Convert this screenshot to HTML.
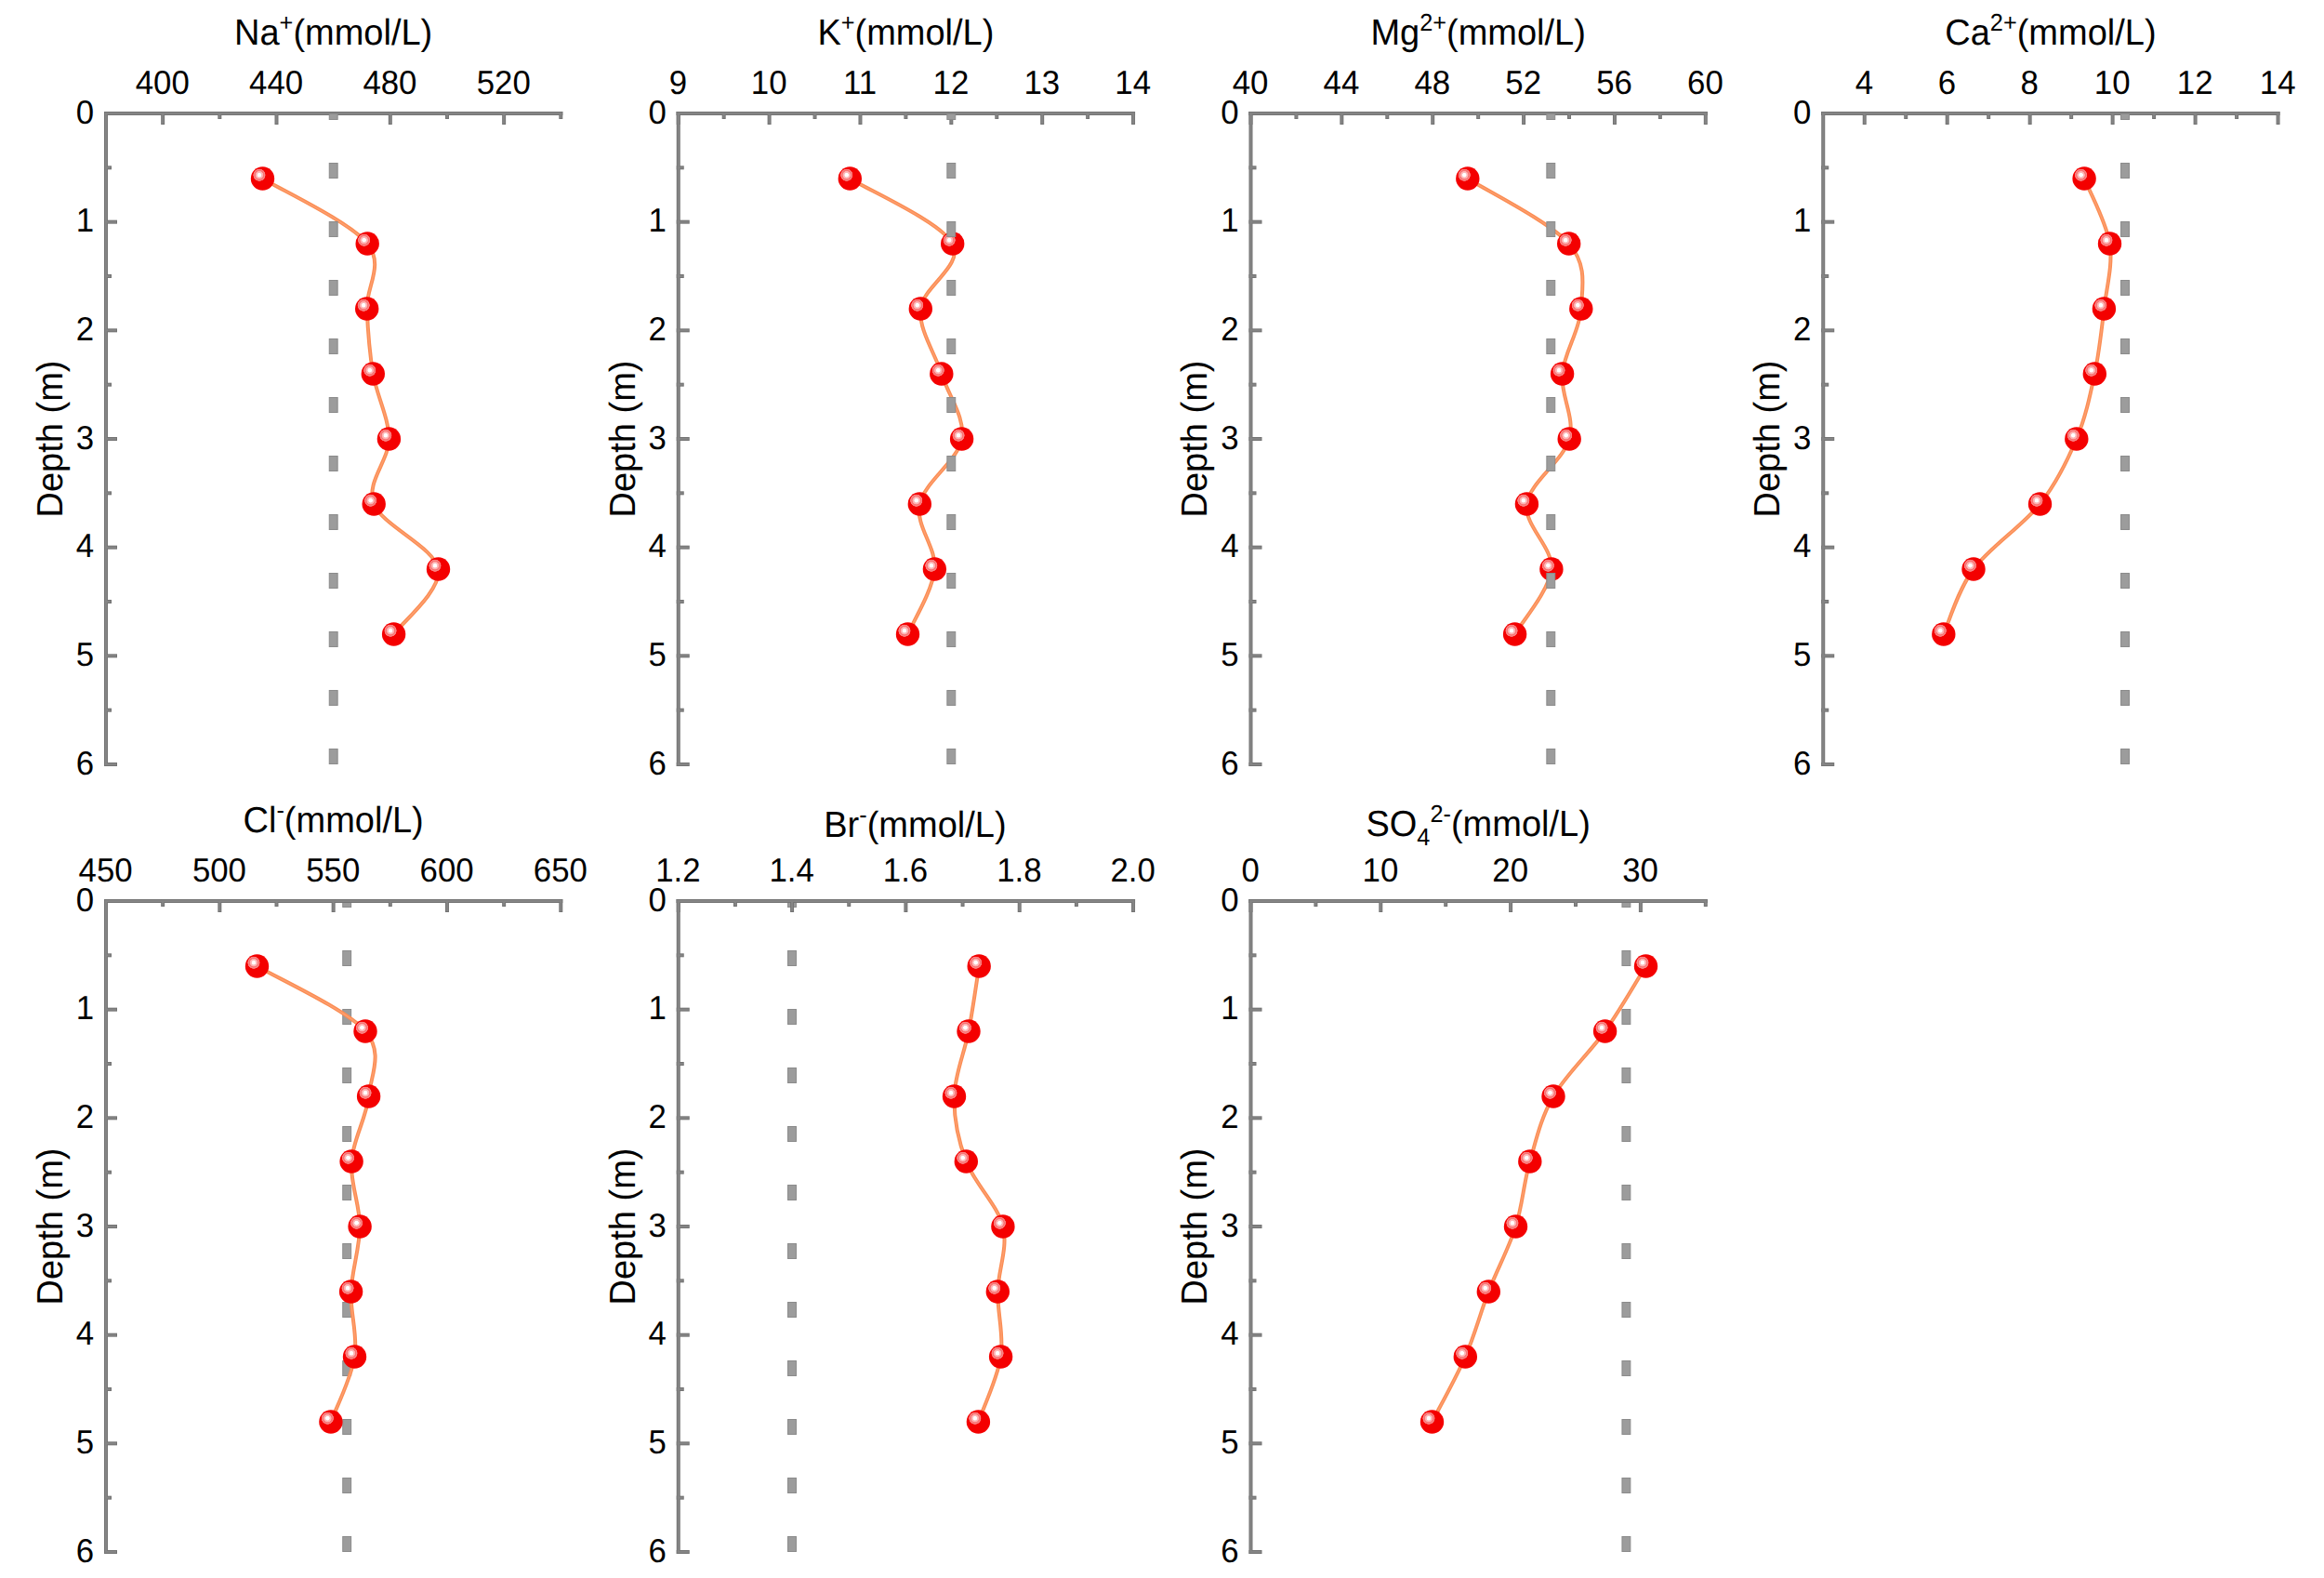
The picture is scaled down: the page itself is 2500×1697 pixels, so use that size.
<!DOCTYPE html>
<html lang="en"><head><meta charset="utf-8"><title>Pore-water ion depth profiles</title>
<style>html,body{margin:0;padding:0;background:#fff;overflow:hidden}svg{display:block}text{font-family:"Liberation Sans", sans-serif;fill:#000;text-rendering:geometricPrecision}</style></head><body>
<svg width="2500" height="1697" viewBox="0 0 2500 1697">
<defs>
<radialGradient id="hl" cx="0.5" cy="0.5" r="0.5"><stop offset="0" stop-color="#fff"/><stop offset="0.29" stop-color="#fff"/><stop offset="0.37" stop-color="#fdbcbc"/><stop offset="0.58" stop-color="#fcb0b0"/><stop offset="0.65" stop-color="#f97474"/><stop offset="0.76" stop-color="#f97070"/><stop offset="0.81" stop-color="#fa8888"/><stop offset="0.94" stop-color="#f97c7c"/><stop offset="1" stop-color="#f40000"/></radialGradient>
</defs>
<rect width="2500" height="1697" fill="#fff"/>
<g id="panel1">
<path d="M282.5 192.0 C301.3 203.7 376.5 238.7 395.2 262.0 C413.9 285.3 393.7 308.7 394.7 332.0 C395.7 355.3 397.4 378.7 401.3 402.0 C405.2 425.3 418.2 448.7 418.4 472.0 C418.5 495.3 393.3 518.7 402.2 542.0 C411.1 565.3 467.9 588.7 471.5 612.0 C475.1 635.3 431.6 670.3 423.6 682.0" fill="none" stroke="#fb8d53" stroke-width="4" stroke-linejoin="round"/><path d="M282.5 192.0 C301.3 203.7 376.5 238.7 395.2 262.0 C413.9 285.3 393.7 308.7 394.7 332.0 C395.7 355.3 397.4 378.7 401.3 402.0 C405.2 425.3 418.2 448.7 418.4 472.0 C418.5 495.3 393.3 518.7 402.2 542.0 C411.1 565.3 467.9 588.7 471.5 612.0 C475.1 635.3 431.6 670.3 423.6 682.0" fill="none" stroke="#fd9f70" stroke-width="1.4" stroke-linejoin="round"/>
<circle cx="282.5" cy="192" r="12.7" fill="#f40000"/><circle cx="278.95" cy="188.2" r="6.8" fill="url(#hl)"/><circle cx="395.2" cy="262" r="12.7" fill="#f40000"/><circle cx="391.65" cy="258.2" r="6.8" fill="url(#hl)"/><circle cx="394.7" cy="332" r="12.7" fill="#f40000"/><circle cx="391.15" cy="328.2" r="6.8" fill="url(#hl)"/><circle cx="401.3" cy="402" r="12.7" fill="#f40000"/><circle cx="397.75" cy="398.2" r="6.8" fill="url(#hl)"/><circle cx="418.4" cy="472" r="12.7" fill="#f40000"/><circle cx="414.85" cy="468.2" r="6.8" fill="url(#hl)"/><circle cx="402.2" cy="542" r="12.7" fill="#f40000"/><circle cx="398.65" cy="538.2" r="6.8" fill="url(#hl)"/><circle cx="471.5" cy="612" r="12.7" fill="#f40000"/><circle cx="467.95" cy="608.2" r="6.8" fill="url(#hl)"/><circle cx="423.6" cy="682" r="12.7" fill="#f40000"/><circle cx="420.05" cy="678.2" r="6.8" fill="url(#hl)"/>
<g fill="#747474"><rect x="112" y="120" width="493.3" height="4"/><rect x="112" y="120" width="4" height="704"/><rect x="173.16" y="120" width="4" height="14"/><rect x="295.49" y="120" width="4" height="14"/><rect x="417.81" y="120" width="4" height="14"/><rect x="540.14" y="120" width="4" height="14"/><rect x="234.32" y="120" width="4" height="8"/><rect x="356.65" y="120" width="4" height="8"/><rect x="478.98" y="120" width="4" height="8"/><rect x="601.3" y="120" width="4" height="8"/><rect x="112" y="120" width="14" height="4"/><rect x="112" y="236.67" width="14" height="4"/><rect x="112" y="353.33" width="14" height="4"/><rect x="112" y="470" width="14" height="4"/><rect x="112" y="586.67" width="14" height="4"/><rect x="112" y="703.33" width="14" height="4"/><rect x="112" y="820" width="14" height="4"/><rect x="112" y="178.33" width="8" height="4"/><rect x="112" y="295" width="8" height="4"/><rect x="112" y="411.67" width="8" height="4"/><rect x="112" y="528.33" width="8" height="4"/><rect x="112" y="645" width="8" height="4"/><rect x="112" y="761.67" width="8" height="4"/></g><g fill="#858585"><rect x="113" y="121" width="491.3" height="2"/><rect x="113" y="121" width="2" height="702"/><rect x="174.16" y="121" width="2" height="12"/><rect x="296.49" y="121" width="2" height="12"/><rect x="418.81" y="121" width="2" height="12"/><rect x="541.14" y="121" width="2" height="12"/><rect x="235.32" y="121" width="2" height="6"/><rect x="357.65" y="121" width="2" height="6"/><rect x="479.98" y="121" width="2" height="6"/><rect x="602.3" y="121" width="2" height="6"/><rect x="113" y="121" width="12" height="2"/><rect x="113" y="237.67" width="12" height="2"/><rect x="113" y="354.33" width="12" height="2"/><rect x="113" y="471" width="12" height="2"/><rect x="113" y="587.67" width="12" height="2"/><rect x="113" y="704.33" width="12" height="2"/><rect x="113" y="821" width="12" height="2"/><rect x="113" y="179.33" width="6" height="2"/><rect x="113" y="296" width="6" height="2"/><rect x="113" y="412.67" width="6" height="2"/><rect x="113" y="529.33" width="6" height="2"/><rect x="113" y="646" width="6" height="2"/><rect x="113" y="762.67" width="6" height="2"/></g>
<g fill="#9c9c9c" stroke="#8b8b8b" stroke-width="1"><rect x="354.25" y="122.5" width="8.9" height="6"/><rect x="354.25" y="175.5" width="8.9" height="16"/><rect x="354.25" y="238.5" width="8.9" height="16"/><rect x="354.25" y="301.5" width="8.9" height="16"/><rect x="354.25" y="364.5" width="8.9" height="16"/><rect x="354.25" y="427.5" width="8.9" height="16"/><rect x="354.25" y="490.5" width="8.9" height="16"/><rect x="354.25" y="553.5" width="8.9" height="16"/><rect x="354.25" y="616.5" width="8.9" height="16"/><rect x="354.25" y="679.5" width="8.9" height="16"/><rect x="354.25" y="742.5" width="8.9" height="16"/><rect x="354.25" y="805.5" width="8.9" height="16"/></g>
<g font-size="34.8">
<g text-anchor="middle">
<text transform="matrix(1 0 0 1.03 174.76 100.5)">400</text>
<text transform="matrix(1 0 0 1.03 297.09 100.5)">440</text>
<text transform="matrix(1 0 0 1.03 419.41 100.5)">480</text>
<text transform="matrix(1 0 0 1.03 541.74 100.5)">520</text>
</g><g text-anchor="end">
<text transform="matrix(1 0 0 1.03 101 132.7)">0</text>
<text transform="matrix(1 0 0 1.03 101 249.37)">1</text>
<text transform="matrix(1 0 0 1.03 101 366.03)">2</text>
<text transform="matrix(1 0 0 1.03 101 482.7)">3</text>
<text transform="matrix(1 0 0 1.03 101 599.37)">4</text>
<text transform="matrix(1 0 0 1.03 101 716.03)">5</text>
<text transform="matrix(1 0 0 1.03 101 832.7)">6</text>
</g></g>
<text transform="matrix(1 0 0 1.03 358.65 48.3)" text-anchor="middle" font-size="38"><tspan dy="0" font-size="38">Na</tspan><tspan dy="-14.5" font-size="25.3">+</tspan><tspan dy="14.5" font-size="38">(mmol/L)</tspan></text>
<text transform="translate(66.9 472) rotate(-90) scale(1 1.03)" text-anchor="middle" font-size="38">Depth (m)</text>
</g>
<g id="panel2">
<path d="M914.3 192.0 C932.7 203.7 1012.0 238.7 1024.7 262.0 C1037.4 285.3 992.3 308.7 990.3 332.0 C988.3 355.3 1005.4 378.7 1012.8 402.0 C1020.2 425.3 1038.5 448.7 1034.6 472.0 C1030.7 495.3 994.2 518.7 989.3 542.0 C984.4 565.3 1007.5 588.7 1005.4 612.0 C1003.3 635.3 981.3 670.3 976.5 682.0" fill="none" stroke="#fb8d53" stroke-width="4" stroke-linejoin="round"/><path d="M914.3 192.0 C932.7 203.7 1012.0 238.7 1024.7 262.0 C1037.4 285.3 992.3 308.7 990.3 332.0 C988.3 355.3 1005.4 378.7 1012.8 402.0 C1020.2 425.3 1038.5 448.7 1034.6 472.0 C1030.7 495.3 994.2 518.7 989.3 542.0 C984.4 565.3 1007.5 588.7 1005.4 612.0 C1003.3 635.3 981.3 670.3 976.5 682.0" fill="none" stroke="#fd9f70" stroke-width="1.4" stroke-linejoin="round"/>
<circle cx="914.3" cy="192" r="12.7" fill="#f40000"/><circle cx="910.75" cy="188.2" r="6.8" fill="url(#hl)"/><circle cx="1024.7" cy="262" r="12.7" fill="#f40000"/><circle cx="1021.15" cy="258.2" r="6.8" fill="url(#hl)"/><circle cx="990.3" cy="332" r="12.7" fill="#f40000"/><circle cx="986.75" cy="328.2" r="6.8" fill="url(#hl)"/><circle cx="1012.8" cy="402" r="12.7" fill="#f40000"/><circle cx="1009.25" cy="398.2" r="6.8" fill="url(#hl)"/><circle cx="1034.6" cy="472" r="12.7" fill="#f40000"/><circle cx="1031.05" cy="468.2" r="6.8" fill="url(#hl)"/><circle cx="989.3" cy="542" r="12.7" fill="#f40000"/><circle cx="985.75" cy="538.2" r="6.8" fill="url(#hl)"/><circle cx="1005.4" cy="612" r="12.7" fill="#f40000"/><circle cx="1001.85" cy="608.2" r="6.8" fill="url(#hl)"/><circle cx="976.5" cy="682" r="12.7" fill="#f40000"/><circle cx="972.95" cy="678.2" r="6.8" fill="url(#hl)"/>
<g fill="#747474"><rect x="727.75" y="120" width="493.3" height="4"/><rect x="727.75" y="120" width="4" height="704"/><rect x="727.75" y="120" width="4" height="14"/><rect x="825.61" y="120" width="4" height="14"/><rect x="923.47" y="120" width="4" height="14"/><rect x="1021.33" y="120" width="4" height="14"/><rect x="1119.19" y="120" width="4" height="14"/><rect x="1217.05" y="120" width="4" height="14"/><rect x="776.68" y="120" width="4" height="8"/><rect x="874.54" y="120" width="4" height="8"/><rect x="972.4" y="120" width="4" height="8"/><rect x="1070.26" y="120" width="4" height="8"/><rect x="1168.12" y="120" width="4" height="8"/><rect x="727.75" y="120" width="14" height="4"/><rect x="727.75" y="236.67" width="14" height="4"/><rect x="727.75" y="353.33" width="14" height="4"/><rect x="727.75" y="470" width="14" height="4"/><rect x="727.75" y="586.67" width="14" height="4"/><rect x="727.75" y="703.33" width="14" height="4"/><rect x="727.75" y="820" width="14" height="4"/><rect x="727.75" y="178.33" width="8" height="4"/><rect x="727.75" y="295" width="8" height="4"/><rect x="727.75" y="411.67" width="8" height="4"/><rect x="727.75" y="528.33" width="8" height="4"/><rect x="727.75" y="645" width="8" height="4"/><rect x="727.75" y="761.67" width="8" height="4"/></g><g fill="#858585"><rect x="728.75" y="121" width="491.3" height="2"/><rect x="728.75" y="121" width="2" height="702"/><rect x="728.75" y="121" width="2" height="12"/><rect x="826.61" y="121" width="2" height="12"/><rect x="924.47" y="121" width="2" height="12"/><rect x="1022.33" y="121" width="2" height="12"/><rect x="1120.19" y="121" width="2" height="12"/><rect x="1218.05" y="121" width="2" height="12"/><rect x="777.68" y="121" width="2" height="6"/><rect x="875.54" y="121" width="2" height="6"/><rect x="973.4" y="121" width="2" height="6"/><rect x="1071.26" y="121" width="2" height="6"/><rect x="1169.12" y="121" width="2" height="6"/><rect x="728.75" y="121" width="12" height="2"/><rect x="728.75" y="237.67" width="12" height="2"/><rect x="728.75" y="354.33" width="12" height="2"/><rect x="728.75" y="471" width="12" height="2"/><rect x="728.75" y="587.67" width="12" height="2"/><rect x="728.75" y="704.33" width="12" height="2"/><rect x="728.75" y="821" width="12" height="2"/><rect x="728.75" y="179.33" width="6" height="2"/><rect x="728.75" y="296" width="6" height="2"/><rect x="728.75" y="412.67" width="6" height="2"/><rect x="728.75" y="529.33" width="6" height="2"/><rect x="728.75" y="646" width="6" height="2"/><rect x="728.75" y="762.67" width="6" height="2"/></g>
<g fill="#9c9c9c" stroke="#8b8b8b" stroke-width="1"><rect x="1018.85" y="122.5" width="8.9" height="6"/><rect x="1018.85" y="175.5" width="8.9" height="16"/><rect x="1018.85" y="238.5" width="8.9" height="16"/><rect x="1018.85" y="301.5" width="8.9" height="16"/><rect x="1018.85" y="364.5" width="8.9" height="16"/><rect x="1018.85" y="427.5" width="8.9" height="16"/><rect x="1018.85" y="490.5" width="8.9" height="16"/><rect x="1018.85" y="553.5" width="8.9" height="16"/><rect x="1018.85" y="616.5" width="8.9" height="16"/><rect x="1018.85" y="679.5" width="8.9" height="16"/><rect x="1018.85" y="742.5" width="8.9" height="16"/><rect x="1018.85" y="805.5" width="8.9" height="16"/></g>
<g font-size="34.8">
<g text-anchor="middle">
<text transform="matrix(1 0 0 1.03 729.35 100.5)">9</text>
<text transform="matrix(1 0 0 1.03 827.21 100.5)">10</text>
<text transform="matrix(1 0 0 1.03 925.07 100.5)">11</text>
<text transform="matrix(1 0 0 1.03 1022.93 100.5)">12</text>
<text transform="matrix(1 0 0 1.03 1120.79 100.5)">13</text>
<text transform="matrix(1 0 0 1.03 1218.65 100.5)">14</text>
</g><g text-anchor="end">
<text transform="matrix(1 0 0 1.03 716.75 132.7)">0</text>
<text transform="matrix(1 0 0 1.03 716.75 249.37)">1</text>
<text transform="matrix(1 0 0 1.03 716.75 366.03)">2</text>
<text transform="matrix(1 0 0 1.03 716.75 482.7)">3</text>
<text transform="matrix(1 0 0 1.03 716.75 599.37)">4</text>
<text transform="matrix(1 0 0 1.03 716.75 716.03)">5</text>
<text transform="matrix(1 0 0 1.03 716.75 832.7)">6</text>
</g></g>
<text transform="matrix(1 0 0 1.03 974.4 48.3)" text-anchor="middle" font-size="38"><tspan dy="0" font-size="38">K</tspan><tspan dy="-14.5" font-size="25.3">+</tspan><tspan dy="14.5" font-size="38">(mmol/L)</tspan></text>
<text transform="translate(682.65 472) rotate(-90) scale(1 1.03)" text-anchor="middle" font-size="38">Depth (m)</text>
</g>
<g id="panel3">
<path d="M1578.8 192.0 C1597.0 203.7 1667.4 238.7 1687.7 262.0 C1708.0 285.3 1702.0 308.7 1700.8 332.0 C1699.6 355.3 1682.7 378.7 1680.6 402.0 C1678.5 425.3 1694.6 448.7 1688.2 472.0 C1681.8 495.3 1645.6 518.7 1642.4 542.0 C1639.2 565.3 1671.0 588.7 1668.9 612.0 C1666.8 635.3 1636.1 670.3 1629.6 682.0" fill="none" stroke="#fb8d53" stroke-width="4" stroke-linejoin="round"/><path d="M1578.8 192.0 C1597.0 203.7 1667.4 238.7 1687.7 262.0 C1708.0 285.3 1702.0 308.7 1700.8 332.0 C1699.6 355.3 1682.7 378.7 1680.6 402.0 C1678.5 425.3 1694.6 448.7 1688.2 472.0 C1681.8 495.3 1645.6 518.7 1642.4 542.0 C1639.2 565.3 1671.0 588.7 1668.9 612.0 C1666.8 635.3 1636.1 670.3 1629.6 682.0" fill="none" stroke="#fd9f70" stroke-width="1.4" stroke-linejoin="round"/>
<circle cx="1578.8" cy="192" r="12.7" fill="#f40000"/><circle cx="1575.25" cy="188.2" r="6.8" fill="url(#hl)"/><circle cx="1687.7" cy="262" r="12.7" fill="#f40000"/><circle cx="1684.15" cy="258.2" r="6.8" fill="url(#hl)"/><circle cx="1700.8" cy="332" r="12.7" fill="#f40000"/><circle cx="1697.25" cy="328.2" r="6.8" fill="url(#hl)"/><circle cx="1680.6" cy="402" r="12.7" fill="#f40000"/><circle cx="1677.05" cy="398.2" r="6.8" fill="url(#hl)"/><circle cx="1688.2" cy="472" r="12.7" fill="#f40000"/><circle cx="1684.65" cy="468.2" r="6.8" fill="url(#hl)"/><circle cx="1642.4" cy="542" r="12.7" fill="#f40000"/><circle cx="1638.85" cy="538.2" r="6.8" fill="url(#hl)"/><circle cx="1668.9" cy="612" r="12.7" fill="#f40000"/><circle cx="1665.35" cy="608.2" r="6.8" fill="url(#hl)"/><circle cx="1629.6" cy="682" r="12.7" fill="#f40000"/><circle cx="1626.05" cy="678.2" r="6.8" fill="url(#hl)"/>
<g fill="#747474"><rect x="1343.5" y="120" width="493.3" height="4"/><rect x="1343.5" y="120" width="4" height="704"/><rect x="1343.5" y="120" width="4" height="14"/><rect x="1441.36" y="120" width="4" height="14"/><rect x="1539.22" y="120" width="4" height="14"/><rect x="1637.08" y="120" width="4" height="14"/><rect x="1734.94" y="120" width="4" height="14"/><rect x="1832.8" y="120" width="4" height="14"/><rect x="1392.43" y="120" width="4" height="8"/><rect x="1490.29" y="120" width="4" height="8"/><rect x="1588.15" y="120" width="4" height="8"/><rect x="1686.01" y="120" width="4" height="8"/><rect x="1783.87" y="120" width="4" height="8"/><rect x="1343.5" y="120" width="14" height="4"/><rect x="1343.5" y="236.67" width="14" height="4"/><rect x="1343.5" y="353.33" width="14" height="4"/><rect x="1343.5" y="470" width="14" height="4"/><rect x="1343.5" y="586.67" width="14" height="4"/><rect x="1343.5" y="703.33" width="14" height="4"/><rect x="1343.5" y="820" width="14" height="4"/><rect x="1343.5" y="178.33" width="8" height="4"/><rect x="1343.5" y="295" width="8" height="4"/><rect x="1343.5" y="411.67" width="8" height="4"/><rect x="1343.5" y="528.33" width="8" height="4"/><rect x="1343.5" y="645" width="8" height="4"/><rect x="1343.5" y="761.67" width="8" height="4"/></g><g fill="#858585"><rect x="1344.5" y="121" width="491.3" height="2"/><rect x="1344.5" y="121" width="2" height="702"/><rect x="1344.5" y="121" width="2" height="12"/><rect x="1442.36" y="121" width="2" height="12"/><rect x="1540.22" y="121" width="2" height="12"/><rect x="1638.08" y="121" width="2" height="12"/><rect x="1735.94" y="121" width="2" height="12"/><rect x="1833.8" y="121" width="2" height="12"/><rect x="1393.43" y="121" width="2" height="6"/><rect x="1491.29" y="121" width="2" height="6"/><rect x="1589.15" y="121" width="2" height="6"/><rect x="1687.01" y="121" width="2" height="6"/><rect x="1784.87" y="121" width="2" height="6"/><rect x="1344.5" y="121" width="12" height="2"/><rect x="1344.5" y="237.67" width="12" height="2"/><rect x="1344.5" y="354.33" width="12" height="2"/><rect x="1344.5" y="471" width="12" height="2"/><rect x="1344.5" y="587.67" width="12" height="2"/><rect x="1344.5" y="704.33" width="12" height="2"/><rect x="1344.5" y="821" width="12" height="2"/><rect x="1344.5" y="179.33" width="6" height="2"/><rect x="1344.5" y="296" width="6" height="2"/><rect x="1344.5" y="412.67" width="6" height="2"/><rect x="1344.5" y="529.33" width="6" height="2"/><rect x="1344.5" y="646" width="6" height="2"/><rect x="1344.5" y="762.67" width="6" height="2"/></g>
<g fill="#9c9c9c" stroke="#8b8b8b" stroke-width="1"><rect x="1663.85" y="122.5" width="8.9" height="6"/><rect x="1663.85" y="175.5" width="8.9" height="16"/><rect x="1663.85" y="238.5" width="8.9" height="16"/><rect x="1663.85" y="301.5" width="8.9" height="16"/><rect x="1663.85" y="364.5" width="8.9" height="16"/><rect x="1663.85" y="427.5" width="8.9" height="16"/><rect x="1663.85" y="490.5" width="8.9" height="16"/><rect x="1663.85" y="553.5" width="8.9" height="16"/><rect x="1663.85" y="616.5" width="8.9" height="16"/><rect x="1663.85" y="679.5" width="8.9" height="16"/><rect x="1663.85" y="742.5" width="8.9" height="16"/><rect x="1663.85" y="805.5" width="8.9" height="16"/></g>
<g font-size="34.8">
<g text-anchor="middle">
<text transform="matrix(1 0 0 1.03 1345.1 100.5)">40</text>
<text transform="matrix(1 0 0 1.03 1442.96 100.5)">44</text>
<text transform="matrix(1 0 0 1.03 1540.82 100.5)">48</text>
<text transform="matrix(1 0 0 1.03 1638.68 100.5)">52</text>
<text transform="matrix(1 0 0 1.03 1736.54 100.5)">56</text>
<text transform="matrix(1 0 0 1.03 1834.4 100.5)">60</text>
</g><g text-anchor="end">
<text transform="matrix(1 0 0 1.03 1332.5 132.7)">0</text>
<text transform="matrix(1 0 0 1.03 1332.5 249.37)">1</text>
<text transform="matrix(1 0 0 1.03 1332.5 366.03)">2</text>
<text transform="matrix(1 0 0 1.03 1332.5 482.7)">3</text>
<text transform="matrix(1 0 0 1.03 1332.5 599.37)">4</text>
<text transform="matrix(1 0 0 1.03 1332.5 716.03)">5</text>
<text transform="matrix(1 0 0 1.03 1332.5 832.7)">6</text>
</g></g>
<text transform="matrix(1 0 0 1.03 1590.15 48.3)" text-anchor="middle" font-size="38"><tspan dy="0" font-size="38">Mg</tspan><tspan dy="-14.5" font-size="25.3">2+</tspan><tspan dy="14.5" font-size="38">(mmol/L)</tspan></text>
<text transform="translate(1298.4 472) rotate(-90) scale(1 1.03)" text-anchor="middle" font-size="38">Depth (m)</text>
</g>
<g id="panel4">
<path d="M2242.1 192.0 C2246.7 203.7 2265.9 238.7 2269.5 262.0 C2273.1 285.3 2266.1 308.7 2263.4 332.0 C2260.7 355.3 2258.2 378.7 2253.3 402.0 C2248.4 425.3 2243.6 448.7 2233.8 472.0 C2224.0 495.3 2213.0 518.7 2194.5 542.0 C2176.0 565.3 2140.3 588.7 2123.0 612.0 C2105.7 635.3 2096.2 670.3 2090.8 682.0" fill="none" stroke="#fb8d53" stroke-width="4" stroke-linejoin="round"/><path d="M2242.1 192.0 C2246.7 203.7 2265.9 238.7 2269.5 262.0 C2273.1 285.3 2266.1 308.7 2263.4 332.0 C2260.7 355.3 2258.2 378.7 2253.3 402.0 C2248.4 425.3 2243.6 448.7 2233.8 472.0 C2224.0 495.3 2213.0 518.7 2194.5 542.0 C2176.0 565.3 2140.3 588.7 2123.0 612.0 C2105.7 635.3 2096.2 670.3 2090.8 682.0" fill="none" stroke="#fd9f70" stroke-width="1.4" stroke-linejoin="round"/>
<circle cx="2242.1" cy="192" r="12.7" fill="#f40000"/><circle cx="2238.55" cy="188.2" r="6.8" fill="url(#hl)"/><circle cx="2269.5" cy="262" r="12.7" fill="#f40000"/><circle cx="2265.95" cy="258.2" r="6.8" fill="url(#hl)"/><circle cx="2263.4" cy="332" r="12.7" fill="#f40000"/><circle cx="2259.85" cy="328.2" r="6.8" fill="url(#hl)"/><circle cx="2253.3" cy="402" r="12.7" fill="#f40000"/><circle cx="2249.75" cy="398.2" r="6.8" fill="url(#hl)"/><circle cx="2233.8" cy="472" r="12.7" fill="#f40000"/><circle cx="2230.25" cy="468.2" r="6.8" fill="url(#hl)"/><circle cx="2194.5" cy="542" r="12.7" fill="#f40000"/><circle cx="2190.95" cy="538.2" r="6.8" fill="url(#hl)"/><circle cx="2123" cy="612" r="12.7" fill="#f40000"/><circle cx="2119.45" cy="608.2" r="6.8" fill="url(#hl)"/><circle cx="2090.8" cy="682" r="12.7" fill="#f40000"/><circle cx="2087.25" cy="678.2" r="6.8" fill="url(#hl)"/>
<g fill="#747474"><rect x="1959.25" y="120" width="493.3" height="4"/><rect x="1959.25" y="120" width="4" height="704"/><rect x="2003.73" y="120" width="4" height="14"/><rect x="2092.7" y="120" width="4" height="14"/><rect x="2181.66" y="120" width="4" height="14"/><rect x="2270.62" y="120" width="4" height="14"/><rect x="2359.59" y="120" width="4" height="14"/><rect x="2448.55" y="120" width="4" height="14"/><rect x="2048.21" y="120" width="4" height="8"/><rect x="2137.18" y="120" width="4" height="8"/><rect x="2226.14" y="120" width="4" height="8"/><rect x="2315.1" y="120" width="4" height="8"/><rect x="2404.07" y="120" width="4" height="8"/><rect x="1959.25" y="120" width="14" height="4"/><rect x="1959.25" y="236.67" width="14" height="4"/><rect x="1959.25" y="353.33" width="14" height="4"/><rect x="1959.25" y="470" width="14" height="4"/><rect x="1959.25" y="586.67" width="14" height="4"/><rect x="1959.25" y="703.33" width="14" height="4"/><rect x="1959.25" y="820" width="14" height="4"/><rect x="1959.25" y="178.33" width="8" height="4"/><rect x="1959.25" y="295" width="8" height="4"/><rect x="1959.25" y="411.67" width="8" height="4"/><rect x="1959.25" y="528.33" width="8" height="4"/><rect x="1959.25" y="645" width="8" height="4"/><rect x="1959.25" y="761.67" width="8" height="4"/></g><g fill="#858585"><rect x="1960.25" y="121" width="491.3" height="2"/><rect x="1960.25" y="121" width="2" height="702"/><rect x="2004.73" y="121" width="2" height="12"/><rect x="2093.7" y="121" width="2" height="12"/><rect x="2182.66" y="121" width="2" height="12"/><rect x="2271.62" y="121" width="2" height="12"/><rect x="2360.59" y="121" width="2" height="12"/><rect x="2449.55" y="121" width="2" height="12"/><rect x="2049.21" y="121" width="2" height="6"/><rect x="2138.18" y="121" width="2" height="6"/><rect x="2227.14" y="121" width="2" height="6"/><rect x="2316.1" y="121" width="2" height="6"/><rect x="2405.07" y="121" width="2" height="6"/><rect x="1960.25" y="121" width="12" height="2"/><rect x="1960.25" y="237.67" width="12" height="2"/><rect x="1960.25" y="354.33" width="12" height="2"/><rect x="1960.25" y="471" width="12" height="2"/><rect x="1960.25" y="587.67" width="12" height="2"/><rect x="1960.25" y="704.33" width="12" height="2"/><rect x="1960.25" y="821" width="12" height="2"/><rect x="1960.25" y="179.33" width="6" height="2"/><rect x="1960.25" y="296" width="6" height="2"/><rect x="1960.25" y="412.67" width="6" height="2"/><rect x="1960.25" y="529.33" width="6" height="2"/><rect x="1960.25" y="646" width="6" height="2"/><rect x="1960.25" y="762.67" width="6" height="2"/></g>
<g fill="#9c9c9c" stroke="#8b8b8b" stroke-width="1"><rect x="2281.55" y="122.5" width="8.9" height="6"/><rect x="2281.55" y="175.5" width="8.9" height="16"/><rect x="2281.55" y="238.5" width="8.9" height="16"/><rect x="2281.55" y="301.5" width="8.9" height="16"/><rect x="2281.55" y="364.5" width="8.9" height="16"/><rect x="2281.55" y="427.5" width="8.9" height="16"/><rect x="2281.55" y="490.5" width="8.9" height="16"/><rect x="2281.55" y="553.5" width="8.9" height="16"/><rect x="2281.55" y="616.5" width="8.9" height="16"/><rect x="2281.55" y="679.5" width="8.9" height="16"/><rect x="2281.55" y="742.5" width="8.9" height="16"/><rect x="2281.55" y="805.5" width="8.9" height="16"/></g>
<g font-size="34.8">
<g text-anchor="middle">
<text transform="matrix(1 0 0 1.03 2005.33 100.5)">4</text>
<text transform="matrix(1 0 0 1.03 2094.3 100.5)">6</text>
<text transform="matrix(1 0 0 1.03 2183.26 100.5)">8</text>
<text transform="matrix(1 0 0 1.03 2272.22 100.5)">10</text>
<text transform="matrix(1 0 0 1.03 2361.19 100.5)">12</text>
<text transform="matrix(1 0 0 1.03 2450.15 100.5)">14</text>
</g><g text-anchor="end">
<text transform="matrix(1 0 0 1.03 1948.25 132.7)">0</text>
<text transform="matrix(1 0 0 1.03 1948.25 249.37)">1</text>
<text transform="matrix(1 0 0 1.03 1948.25 366.03)">2</text>
<text transform="matrix(1 0 0 1.03 1948.25 482.7)">3</text>
<text transform="matrix(1 0 0 1.03 1948.25 599.37)">4</text>
<text transform="matrix(1 0 0 1.03 1948.25 716.03)">5</text>
<text transform="matrix(1 0 0 1.03 1948.25 832.7)">6</text>
</g></g>
<text transform="matrix(1 0 0 1.03 2205.9 48.3)" text-anchor="middle" font-size="38"><tspan dy="0" font-size="38">Ca</tspan><tspan dy="-14.5" font-size="25.3">2+</tspan><tspan dy="14.5" font-size="38">(mmol/L)</tspan></text>
<text transform="translate(1914.15 472) rotate(-90) scale(1 1.03)" text-anchor="middle" font-size="38">Depth (m)</text>
</g>
<g id="panel5">
<g fill="#9c9c9c" stroke="#8b8b8b" stroke-width="1"><rect x="368.75" y="969.5" width="8.9" height="6"/><rect x="368.75" y="1022.5" width="8.9" height="16"/><rect x="368.75" y="1085.5" width="8.9" height="16"/><rect x="368.75" y="1148.5" width="8.9" height="16"/><rect x="368.75" y="1211.5" width="8.9" height="16"/><rect x="368.75" y="1274.5" width="8.9" height="16"/><rect x="368.75" y="1337.5" width="8.9" height="16"/><rect x="368.75" y="1400.5" width="8.9" height="16"/><rect x="368.75" y="1463.5" width="8.9" height="16"/><rect x="368.75" y="1526.5" width="8.9" height="16"/><rect x="368.75" y="1589.5" width="8.9" height="16"/><rect x="368.75" y="1652.5" width="8.9" height="16"/></g>
<path d="M276.5 1039.0 C295.9 1050.7 373.0 1085.7 393.0 1109.0 C413.0 1132.3 399.1 1155.7 396.6 1179.0 C394.1 1202.3 379.7 1225.7 378.1 1249.0 C376.5 1272.3 387.2 1295.7 387.1 1319.0 C387.0 1342.3 378.5 1365.7 377.6 1389.0 C376.7 1412.3 385.1 1435.7 381.5 1459.0 C377.9 1482.3 360.2 1517.3 355.9 1529.0" fill="none" stroke="#fb8d53" stroke-width="4" stroke-linejoin="round"/><path d="M276.5 1039.0 C295.9 1050.7 373.0 1085.7 393.0 1109.0 C413.0 1132.3 399.1 1155.7 396.6 1179.0 C394.1 1202.3 379.7 1225.7 378.1 1249.0 C376.5 1272.3 387.2 1295.7 387.1 1319.0 C387.0 1342.3 378.5 1365.7 377.6 1389.0 C376.7 1412.3 385.1 1435.7 381.5 1459.0 C377.9 1482.3 360.2 1517.3 355.9 1529.0" fill="none" stroke="#fd9f70" stroke-width="1.4" stroke-linejoin="round"/>
<circle cx="276.5" cy="1039" r="12.7" fill="#f40000"/><circle cx="272.95" cy="1035.2" r="6.8" fill="url(#hl)"/><circle cx="393" cy="1109" r="12.7" fill="#f40000"/><circle cx="389.45" cy="1105.2" r="6.8" fill="url(#hl)"/><circle cx="396.6" cy="1179" r="12.7" fill="#f40000"/><circle cx="393.05" cy="1175.2" r="6.8" fill="url(#hl)"/><circle cx="378.1" cy="1249" r="12.7" fill="#f40000"/><circle cx="374.55" cy="1245.2" r="6.8" fill="url(#hl)"/><circle cx="387.1" cy="1319" r="12.7" fill="#f40000"/><circle cx="383.55" cy="1315.2" r="6.8" fill="url(#hl)"/><circle cx="377.6" cy="1389" r="12.7" fill="#f40000"/><circle cx="374.05" cy="1385.2" r="6.8" fill="url(#hl)"/><circle cx="381.5" cy="1459" r="12.7" fill="#f40000"/><circle cx="377.95" cy="1455.2" r="6.8" fill="url(#hl)"/><circle cx="355.9" cy="1529" r="12.7" fill="#f40000"/><circle cx="352.35" cy="1525.2" r="6.8" fill="url(#hl)"/>
<g fill="#747474"><rect x="112" y="967" width="493.3" height="4"/><rect x="112" y="967" width="4" height="704"/><rect x="112" y="967" width="4" height="14"/><rect x="234.32" y="967" width="4" height="14"/><rect x="356.65" y="967" width="4" height="14"/><rect x="478.97" y="967" width="4" height="14"/><rect x="601.3" y="967" width="4" height="14"/><rect x="173.16" y="967" width="4" height="8"/><rect x="295.49" y="967" width="4" height="8"/><rect x="417.81" y="967" width="4" height="8"/><rect x="540.14" y="967" width="4" height="8"/><rect x="112" y="967" width="14" height="4"/><rect x="112" y="1083.67" width="14" height="4"/><rect x="112" y="1200.33" width="14" height="4"/><rect x="112" y="1317" width="14" height="4"/><rect x="112" y="1433.67" width="14" height="4"/><rect x="112" y="1550.33" width="14" height="4"/><rect x="112" y="1667" width="14" height="4"/><rect x="112" y="1025.33" width="8" height="4"/><rect x="112" y="1142" width="8" height="4"/><rect x="112" y="1258.67" width="8" height="4"/><rect x="112" y="1375.33" width="8" height="4"/><rect x="112" y="1492" width="8" height="4"/><rect x="112" y="1608.67" width="8" height="4"/></g><g fill="#858585"><rect x="113" y="968" width="491.3" height="2"/><rect x="113" y="968" width="2" height="702"/><rect x="113" y="968" width="2" height="12"/><rect x="235.32" y="968" width="2" height="12"/><rect x="357.65" y="968" width="2" height="12"/><rect x="479.97" y="968" width="2" height="12"/><rect x="602.3" y="968" width="2" height="12"/><rect x="174.16" y="968" width="2" height="6"/><rect x="296.49" y="968" width="2" height="6"/><rect x="418.81" y="968" width="2" height="6"/><rect x="541.14" y="968" width="2" height="6"/><rect x="113" y="968" width="12" height="2"/><rect x="113" y="1084.67" width="12" height="2"/><rect x="113" y="1201.33" width="12" height="2"/><rect x="113" y="1318" width="12" height="2"/><rect x="113" y="1434.67" width="12" height="2"/><rect x="113" y="1551.33" width="12" height="2"/><rect x="113" y="1668" width="12" height="2"/><rect x="113" y="1026.33" width="6" height="2"/><rect x="113" y="1143" width="6" height="2"/><rect x="113" y="1259.67" width="6" height="2"/><rect x="113" y="1376.33" width="6" height="2"/><rect x="113" y="1493" width="6" height="2"/><rect x="113" y="1609.67" width="6" height="2"/></g>
<g font-size="34.8">
<g text-anchor="middle">
<text transform="matrix(1 0 0 1.03 113.6 947.5)">450</text>
<text transform="matrix(1 0 0 1.03 235.92 947.5)">500</text>
<text transform="matrix(1 0 0 1.03 358.25 947.5)">550</text>
<text transform="matrix(1 0 0 1.03 480.57 947.5)">600</text>
<text transform="matrix(1 0 0 1.03 602.9 947.5)">650</text>
</g><g text-anchor="end">
<text transform="matrix(1 0 0 1.03 101 979.7)">0</text>
<text transform="matrix(1 0 0 1.03 101 1096.37)">1</text>
<text transform="matrix(1 0 0 1.03 101 1213.03)">2</text>
<text transform="matrix(1 0 0 1.03 101 1329.7)">3</text>
<text transform="matrix(1 0 0 1.03 101 1446.37)">4</text>
<text transform="matrix(1 0 0 1.03 101 1563.03)">5</text>
<text transform="matrix(1 0 0 1.03 101 1679.7)">6</text>
</g></g>
<text transform="matrix(1 0 0 1.03 358.65 895.3)" text-anchor="middle" font-size="38"><tspan dy="0" font-size="38">Cl</tspan><tspan dy="-14.5" font-size="25.3">-</tspan><tspan dy="14.5" font-size="38">(mmol/L)</tspan></text>
<text transform="translate(66.9 1319) rotate(-90) scale(1 1.03)" text-anchor="middle" font-size="38">Depth (m)</text>
</g>
<g id="panel6">
<g fill="#9c9c9c" stroke="#8b8b8b" stroke-width="1"><rect x="847.55" y="969.5" width="8.9" height="6"/><rect x="847.55" y="1022.5" width="8.9" height="16"/><rect x="847.55" y="1085.5" width="8.9" height="16"/><rect x="847.55" y="1148.5" width="8.9" height="16"/><rect x="847.55" y="1211.5" width="8.9" height="16"/><rect x="847.55" y="1274.5" width="8.9" height="16"/><rect x="847.55" y="1337.5" width="8.9" height="16"/><rect x="847.55" y="1400.5" width="8.9" height="16"/><rect x="847.55" y="1463.5" width="8.9" height="16"/><rect x="847.55" y="1526.5" width="8.9" height="16"/><rect x="847.55" y="1589.5" width="8.9" height="16"/><rect x="847.55" y="1652.5" width="8.9" height="16"/></g>
<path d="M1053.2 1039.0 C1051.3 1050.7 1046.5 1085.7 1042.0 1109.0 C1037.5 1132.3 1027.0 1155.7 1026.5 1179.0 C1026.0 1202.3 1030.6 1225.7 1039.3 1249.0 C1048.0 1272.3 1073.2 1295.7 1078.9 1319.0 C1084.6 1342.3 1073.7 1365.7 1073.3 1389.0 C1072.9 1412.3 1080.1 1435.7 1076.6 1459.0 C1073.1 1482.3 1056.4 1517.3 1052.4 1529.0" fill="none" stroke="#fb8d53" stroke-width="4" stroke-linejoin="round"/><path d="M1053.2 1039.0 C1051.3 1050.7 1046.5 1085.7 1042.0 1109.0 C1037.5 1132.3 1027.0 1155.7 1026.5 1179.0 C1026.0 1202.3 1030.6 1225.7 1039.3 1249.0 C1048.0 1272.3 1073.2 1295.7 1078.9 1319.0 C1084.6 1342.3 1073.7 1365.7 1073.3 1389.0 C1072.9 1412.3 1080.1 1435.7 1076.6 1459.0 C1073.1 1482.3 1056.4 1517.3 1052.4 1529.0" fill="none" stroke="#fd9f70" stroke-width="1.4" stroke-linejoin="round"/>
<circle cx="1053.2" cy="1039" r="12.7" fill="#f40000"/><circle cx="1049.65" cy="1035.2" r="6.8" fill="url(#hl)"/><circle cx="1042" cy="1109" r="12.7" fill="#f40000"/><circle cx="1038.45" cy="1105.2" r="6.8" fill="url(#hl)"/><circle cx="1026.5" cy="1179" r="12.7" fill="#f40000"/><circle cx="1022.95" cy="1175.2" r="6.8" fill="url(#hl)"/><circle cx="1039.3" cy="1249" r="12.7" fill="#f40000"/><circle cx="1035.75" cy="1245.2" r="6.8" fill="url(#hl)"/><circle cx="1078.9" cy="1319" r="12.7" fill="#f40000"/><circle cx="1075.35" cy="1315.2" r="6.8" fill="url(#hl)"/><circle cx="1073.3" cy="1389" r="12.7" fill="#f40000"/><circle cx="1069.75" cy="1385.2" r="6.8" fill="url(#hl)"/><circle cx="1076.6" cy="1459" r="12.7" fill="#f40000"/><circle cx="1073.05" cy="1455.2" r="6.8" fill="url(#hl)"/><circle cx="1052.4" cy="1529" r="12.7" fill="#f40000"/><circle cx="1048.85" cy="1525.2" r="6.8" fill="url(#hl)"/>
<g fill="#747474"><rect x="727.75" y="967" width="493.3" height="4"/><rect x="727.75" y="967" width="4" height="704"/><rect x="727.75" y="967" width="4" height="14"/><rect x="850.07" y="967" width="4" height="14"/><rect x="972.4" y="967" width="4" height="14"/><rect x="1094.73" y="967" width="4" height="14"/><rect x="1217.05" y="967" width="4" height="14"/><rect x="788.91" y="967" width="4" height="8"/><rect x="911.24" y="967" width="4" height="8"/><rect x="1033.56" y="967" width="4" height="8"/><rect x="1155.89" y="967" width="4" height="8"/><rect x="727.75" y="967" width="14" height="4"/><rect x="727.75" y="1083.67" width="14" height="4"/><rect x="727.75" y="1200.33" width="14" height="4"/><rect x="727.75" y="1317" width="14" height="4"/><rect x="727.75" y="1433.67" width="14" height="4"/><rect x="727.75" y="1550.33" width="14" height="4"/><rect x="727.75" y="1667" width="14" height="4"/><rect x="727.75" y="1025.33" width="8" height="4"/><rect x="727.75" y="1142" width="8" height="4"/><rect x="727.75" y="1258.67" width="8" height="4"/><rect x="727.75" y="1375.33" width="8" height="4"/><rect x="727.75" y="1492" width="8" height="4"/><rect x="727.75" y="1608.67" width="8" height="4"/></g><g fill="#858585"><rect x="728.75" y="968" width="491.3" height="2"/><rect x="728.75" y="968" width="2" height="702"/><rect x="728.75" y="968" width="2" height="12"/><rect x="851.07" y="968" width="2" height="12"/><rect x="973.4" y="968" width="2" height="12"/><rect x="1095.73" y="968" width="2" height="12"/><rect x="1218.05" y="968" width="2" height="12"/><rect x="789.91" y="968" width="2" height="6"/><rect x="912.24" y="968" width="2" height="6"/><rect x="1034.56" y="968" width="2" height="6"/><rect x="1156.89" y="968" width="2" height="6"/><rect x="728.75" y="968" width="12" height="2"/><rect x="728.75" y="1084.67" width="12" height="2"/><rect x="728.75" y="1201.33" width="12" height="2"/><rect x="728.75" y="1318" width="12" height="2"/><rect x="728.75" y="1434.67" width="12" height="2"/><rect x="728.75" y="1551.33" width="12" height="2"/><rect x="728.75" y="1668" width="12" height="2"/><rect x="728.75" y="1026.33" width="6" height="2"/><rect x="728.75" y="1143" width="6" height="2"/><rect x="728.75" y="1259.67" width="6" height="2"/><rect x="728.75" y="1376.33" width="6" height="2"/><rect x="728.75" y="1493" width="6" height="2"/><rect x="728.75" y="1609.67" width="6" height="2"/></g>
<g font-size="34.8">
<g text-anchor="middle">
<text transform="matrix(1 0 0 1.03 729.35 947.5)">1.2</text>
<text transform="matrix(1 0 0 1.03 851.67 947.5)">1.4</text>
<text transform="matrix(1 0 0 1.03 974 947.5)">1.6</text>
<text transform="matrix(1 0 0 1.03 1096.33 947.5)">1.8</text>
<text transform="matrix(1 0 0 1.03 1218.65 947.5)">2.0</text>
</g><g text-anchor="end">
<text transform="matrix(1 0 0 1.03 716.75 979.7)">0</text>
<text transform="matrix(1 0 0 1.03 716.75 1096.37)">1</text>
<text transform="matrix(1 0 0 1.03 716.75 1213.03)">2</text>
<text transform="matrix(1 0 0 1.03 716.75 1329.7)">3</text>
<text transform="matrix(1 0 0 1.03 716.75 1446.37)">4</text>
<text transform="matrix(1 0 0 1.03 716.75 1563.03)">5</text>
<text transform="matrix(1 0 0 1.03 716.75 1679.7)">6</text>
</g></g>
<text transform="matrix(1 0 0 1.03 984.4 900)" text-anchor="middle" font-size="38"><tspan dy="0" font-size="38">Br</tspan><tspan dy="-14.5" font-size="25.3">-</tspan><tspan dy="14.5" font-size="38">(mmol/L)</tspan></text>
<text transform="translate(682.65 1319) rotate(-90) scale(1 1.03)" text-anchor="middle" font-size="38">Depth (m)</text>
</g>
<g id="panel7">
<g fill="#9c9c9c" stroke="#8b8b8b" stroke-width="1"><rect x="1744.95" y="969.5" width="8.9" height="6"/><rect x="1744.95" y="1022.5" width="8.9" height="16"/><rect x="1744.95" y="1085.5" width="8.9" height="16"/><rect x="1744.95" y="1148.5" width="8.9" height="16"/><rect x="1744.95" y="1211.5" width="8.9" height="16"/><rect x="1744.95" y="1274.5" width="8.9" height="16"/><rect x="1744.95" y="1337.5" width="8.9" height="16"/><rect x="1744.95" y="1400.5" width="8.9" height="16"/><rect x="1744.95" y="1463.5" width="8.9" height="16"/><rect x="1744.95" y="1526.5" width="8.9" height="16"/><rect x="1744.95" y="1589.5" width="8.9" height="16"/><rect x="1744.95" y="1652.5" width="8.9" height="16"/></g>
<path d="M1770.5 1039.0 C1763.2 1050.7 1743.2 1085.7 1726.6 1109.0 C1710.0 1132.3 1684.5 1155.7 1671.0 1179.0 C1657.5 1202.3 1652.5 1225.7 1645.8 1249.0 C1639.0 1272.3 1637.9 1295.7 1630.5 1319.0 C1623.1 1342.3 1610.3 1365.7 1601.3 1389.0 C1592.3 1412.3 1586.4 1435.7 1576.3 1459.0 C1566.2 1482.3 1546.5 1517.3 1540.5 1529.0" fill="none" stroke="#fb8d53" stroke-width="4" stroke-linejoin="round"/><path d="M1770.5 1039.0 C1763.2 1050.7 1743.2 1085.7 1726.6 1109.0 C1710.0 1132.3 1684.5 1155.7 1671.0 1179.0 C1657.5 1202.3 1652.5 1225.7 1645.8 1249.0 C1639.0 1272.3 1637.9 1295.7 1630.5 1319.0 C1623.1 1342.3 1610.3 1365.7 1601.3 1389.0 C1592.3 1412.3 1586.4 1435.7 1576.3 1459.0 C1566.2 1482.3 1546.5 1517.3 1540.5 1529.0" fill="none" stroke="#fd9f70" stroke-width="1.4" stroke-linejoin="round"/>
<circle cx="1770.5" cy="1039" r="12.7" fill="#f40000"/><circle cx="1766.95" cy="1035.2" r="6.8" fill="url(#hl)"/><circle cx="1726.6" cy="1109" r="12.7" fill="#f40000"/><circle cx="1723.05" cy="1105.2" r="6.8" fill="url(#hl)"/><circle cx="1671" cy="1179" r="12.7" fill="#f40000"/><circle cx="1667.45" cy="1175.2" r="6.8" fill="url(#hl)"/><circle cx="1645.8" cy="1249" r="12.7" fill="#f40000"/><circle cx="1642.25" cy="1245.2" r="6.8" fill="url(#hl)"/><circle cx="1630.5" cy="1319" r="12.7" fill="#f40000"/><circle cx="1626.95" cy="1315.2" r="6.8" fill="url(#hl)"/><circle cx="1601.3" cy="1389" r="12.7" fill="#f40000"/><circle cx="1597.75" cy="1385.2" r="6.8" fill="url(#hl)"/><circle cx="1576.3" cy="1459" r="12.7" fill="#f40000"/><circle cx="1572.75" cy="1455.2" r="6.8" fill="url(#hl)"/><circle cx="1540.5" cy="1529" r="12.7" fill="#f40000"/><circle cx="1536.95" cy="1525.2" r="6.8" fill="url(#hl)"/>
<g fill="#747474"><rect x="1343.5" y="967" width="493.3" height="4"/><rect x="1343.5" y="967" width="4" height="704"/><rect x="1343.5" y="967" width="4" height="14"/><rect x="1483.3" y="967" width="4" height="14"/><rect x="1623.1" y="967" width="4" height="14"/><rect x="1762.9" y="967" width="4" height="14"/><rect x="1413.4" y="967" width="4" height="8"/><rect x="1553.2" y="967" width="4" height="8"/><rect x="1693" y="967" width="4" height="8"/><rect x="1832.8" y="967" width="4" height="8"/><rect x="1343.5" y="967" width="14" height="4"/><rect x="1343.5" y="1083.67" width="14" height="4"/><rect x="1343.5" y="1200.33" width="14" height="4"/><rect x="1343.5" y="1317" width="14" height="4"/><rect x="1343.5" y="1433.67" width="14" height="4"/><rect x="1343.5" y="1550.33" width="14" height="4"/><rect x="1343.5" y="1667" width="14" height="4"/><rect x="1343.5" y="1025.33" width="8" height="4"/><rect x="1343.5" y="1142" width="8" height="4"/><rect x="1343.5" y="1258.67" width="8" height="4"/><rect x="1343.5" y="1375.33" width="8" height="4"/><rect x="1343.5" y="1492" width="8" height="4"/><rect x="1343.5" y="1608.67" width="8" height="4"/></g><g fill="#858585"><rect x="1344.5" y="968" width="491.3" height="2"/><rect x="1344.5" y="968" width="2" height="702"/><rect x="1344.5" y="968" width="2" height="12"/><rect x="1484.3" y="968" width="2" height="12"/><rect x="1624.1" y="968" width="2" height="12"/><rect x="1763.9" y="968" width="2" height="12"/><rect x="1414.4" y="968" width="2" height="6"/><rect x="1554.2" y="968" width="2" height="6"/><rect x="1694" y="968" width="2" height="6"/><rect x="1833.8" y="968" width="2" height="6"/><rect x="1344.5" y="968" width="12" height="2"/><rect x="1344.5" y="1084.67" width="12" height="2"/><rect x="1344.5" y="1201.33" width="12" height="2"/><rect x="1344.5" y="1318" width="12" height="2"/><rect x="1344.5" y="1434.67" width="12" height="2"/><rect x="1344.5" y="1551.33" width="12" height="2"/><rect x="1344.5" y="1668" width="12" height="2"/><rect x="1344.5" y="1026.33" width="6" height="2"/><rect x="1344.5" y="1143" width="6" height="2"/><rect x="1344.5" y="1259.67" width="6" height="2"/><rect x="1344.5" y="1376.33" width="6" height="2"/><rect x="1344.5" y="1493" width="6" height="2"/><rect x="1344.5" y="1609.67" width="6" height="2"/></g>
<g font-size="34.8">
<g text-anchor="middle">
<text transform="matrix(1 0 0 1.03 1345.1 947.5)">0</text>
<text transform="matrix(1 0 0 1.03 1484.9 947.5)">10</text>
<text transform="matrix(1 0 0 1.03 1624.7 947.5)">20</text>
<text transform="matrix(1 0 0 1.03 1764.5 947.5)">30</text>
</g><g text-anchor="end">
<text transform="matrix(1 0 0 1.03 1332.5 979.7)">0</text>
<text transform="matrix(1 0 0 1.03 1332.5 1096.37)">1</text>
<text transform="matrix(1 0 0 1.03 1332.5 1213.03)">2</text>
<text transform="matrix(1 0 0 1.03 1332.5 1329.7)">3</text>
<text transform="matrix(1 0 0 1.03 1332.5 1446.37)">4</text>
<text transform="matrix(1 0 0 1.03 1332.5 1563.03)">5</text>
<text transform="matrix(1 0 0 1.03 1332.5 1679.7)">6</text>
</g></g>
<text transform="matrix(1 0 0 1.03 1590.15 898.8)" text-anchor="middle" font-size="38"><tspan dy="0" font-size="38">SO</tspan><tspan dy="9.8" font-size="25.3">4</tspan><tspan dy="-24.3" font-size="25.3">2-</tspan><tspan dy="14.5" font-size="38">(mmol/L)</tspan></text>
<text transform="translate(1298.4 1319) rotate(-90) scale(1 1.03)" text-anchor="middle" font-size="38">Depth (m)</text>
</g>
</svg></body></html>
